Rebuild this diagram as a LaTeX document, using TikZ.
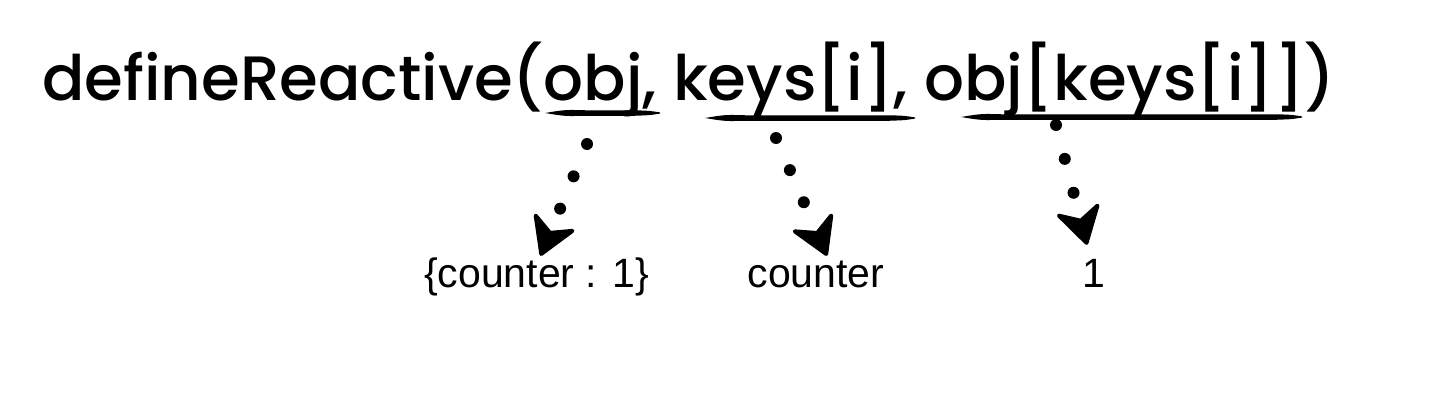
\documentclass[tikz,border=0pt]{standalone}
\usepackage{fontspec}
\usepackage{graphicx}
\setmainfont{Poppins}
\newfontfamily\titlefont{Poppins Medium}
\newfontfamily\labelfont{Liberation Sans}
\usetikzlibrary{arrows.meta}
\newcommand\brushstroke[4]{% x1, x2, y, thickness
  \fill[black] (#1,#3) .. controls (#1+20,#3+0.6*#4) .. (#1+40,#3+0.5*#4)
     -- (#2-25,#3+0.5*#4) .. controls (#2-10,#3+0.4*#4) .. (#2,#3+0.1*#4)
     -- (#2,#3-0.1*#4) .. controls (#2-10,#3-0.4*#4) .. (#2-25,#3-0.5*#4)
     -- (#1+40,#3-0.5*#4) .. controls (#1+20,#3-0.6*#4) .. (#1,#3) -- cycle;}
\begin{document}
\begin{tikzpicture}[x=1pt,y=1pt,
  lbl/.style={font=\labelfont\fontsize{41}{41}\selectfont, inner sep=0pt, text height=30pt, anchor=base},
  dotconn/.style={line width=12pt, line cap=round, dash pattern=on 0pt off 35pt,
    -{Stealth[length=42pt, width=50pt, inset=13pt, line width=4pt, round]}}]
\useasboundingbox[fill=white] (0,0) rectangle (1448,400);
\node[anchor=base west, inner sep=0pt] (title) at (42,300)
  {\resizebox{1293pt}{!}{\titlefont\fontsize{60}{60}\selectfont defineReactive(obj, keys[i], obj[keys[i]])}};
% underlines
\brushstroke{545}{660}{287}{5.5}
\brushstroke{705}{915}{282}{5.5}
\brushstroke{961}{1302}{283}{5.5}
% labels
\node[lbl] (l1) at (536.5,113) {\{counter : 1\}};
\node[lbl] (l2) at (816,113) {counter};
\node[lbl] (l3) at (1094,113) {1};
% connectors
\coordinate (s1) at (587,256);
\coordinate (s2) at (776,262);
\coordinate (s3) at (1056,275);
\draw[dotconn] (s1) -- ([xshift=4pt,yshift=1pt]l1.north);
\draw[dotconn] (s2) -- ([xshift=11pt,yshift=1pt]l2.north);
\draw[dotconn] (s3) -- ([xshift=-7pt,yshift=12pt]l3.north);
\end{tikzpicture}
\end{document}
